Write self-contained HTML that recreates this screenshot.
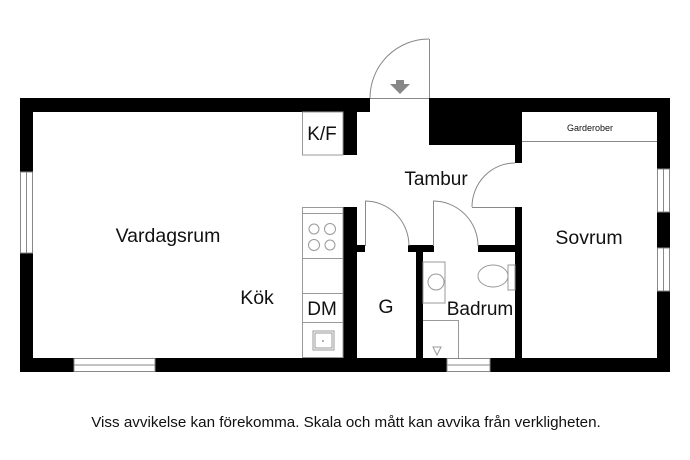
<!DOCTYPE html>
<html><head><meta charset="utf-8"><style>
html,body{margin:0;padding:0;background:#fff;width:690px;height:460px;overflow:hidden}
svg{display:block}
text{font-family:"Liberation Sans",Arial,sans-serif;fill:#111}
</style></head><body>
<svg width="690" height="460" viewBox="0 0 690 460" xmlns="http://www.w3.org/2000/svg">
<g fill="#000">
<rect x="20" y="98" width="350" height="14"/>
<rect x="429" y="98" width="241" height="14"/>
<rect x="429" y="98" width="93" height="47"/>
<rect x="20" y="98" width="13" height="274"/>
<rect x="657" y="98" width="13" height="274"/>
<rect x="20" y="358" width="650" height="14"/>
<rect x="343" y="112" width="14" height="43"/>
<rect x="343" y="207" width="14" height="151"/>
<rect x="515" y="112" width="7" height="51"/>
<rect x="515" y="207" width="7" height="151"/>
<rect x="357" y="245" width="8" height="7"/>
<rect x="408" y="245" width="26" height="7"/>
<rect x="416" y="245" width="7" height="113"/>
<rect x="478" y="245" width="37" height="7"/>
</g>
<g fill="#fff" stroke="#888" stroke-width="1">
<rect x="20.5" y="172" width="12" height="81"/>
<line x1="26.5" y1="172" x2="26.5" y2="253"/>
<rect x="74" y="358.5" width="81" height="13"/>
<line x1="74" y1="365" x2="155" y2="365"/>
<rect x="447" y="358.5" width="43" height="13"/>
<line x1="447" y1="365" x2="490" y2="365"/>
<rect x="657.5" y="169" width="12" height="43"/>
<line x1="663.5" y1="169" x2="663.5" y2="212"/>
<rect x="657.5" y="248" width="12" height="43"/>
<line x1="663.5" y1="248" x2="663.5" y2="291"/>
</g>
<g fill="none" stroke="#888" stroke-width="1">
<line x1="370" y1="98.5" x2="429" y2="98.5"/>
<line x1="429.5" y1="39" x2="429.5" y2="98"/>
<path d="M370,98 A59,59 0 0 1 429,39"/>
<line x1="472" y1="207.5" x2="515" y2="207.5"/>
<path d="M472,207 A43,44 0 0 1 515,163"/>
<line x1="365.5" y1="201" x2="365.5" y2="246"/>
<path d="M365,201 A44,45 0 0 1 409,246"/>
<line x1="433.5" y1="201" x2="433.5" y2="246"/>
<path d="M433,201 A45,45 0 0 1 478,246"/>
<line x1="522" y1="141.5" x2="657" y2="141.5"/>
</g>
<polygon points="390,84 410,84 400,94" fill="#888"/>
<rect x="396" y="80" width="8" height="5" fill="#888"/>
<g fill="none" stroke="#999" stroke-width="1">
<rect x="302.5" y="112" width="40.5" height="43"/>
<rect x="302.5" y="207.5" width="40.5" height="150"/>
<line x1="302" y1="258.5" x2="343" y2="258.5"/>
<line x1="302" y1="293.5" x2="343" y2="293.5"/>
<line x1="302" y1="322.5" x2="343" y2="322.5"/>
<line x1="302" y1="213.5" x2="343" y2="213.5"/>
<circle cx="314" cy="229" r="5"/><circle cx="330" cy="229" r="5.5"/>
<circle cx="314" cy="245" r="5.5"/><circle cx="330" cy="245" r="5"/>
<rect x="313" y="331" width="21" height="19"/>
<rect x="315" y="333" width="17" height="15"/>
<rect x="423" y="262" width="22" height="41"/>
<circle cx="436" cy="282" r="8"/>
<line x1="423" y1="320.5" x2="458" y2="320.5"/>
<line x1="458.5" y1="320" x2="458.5" y2="358"/>
<ellipse cx="493" cy="276" rx="15" ry="11"/>
<rect x="508" y="265" width="7" height="25"/>
<polygon points="433,347 441,347 437,355"/>
</g>
<circle cx="323" cy="341" r="1" fill="#999"/>
<text x="168" y="242" font-size="19.5" text-anchor="middle">Vardagsrum</text>
<text x="257" y="304" font-size="19.5" text-anchor="middle">Kök</text>
<text x="322" y="140" font-size="19" text-anchor="middle">K/F</text>
<text x="322" y="315" font-size="19" text-anchor="middle">DM</text>
<text x="386" y="313" font-size="19.5" text-anchor="middle">G</text>
<text x="436" y="185" font-size="19" text-anchor="middle">Tambur</text>
<text x="480" y="315" font-size="19" text-anchor="middle">Badrum</text>
<text x="589" y="244" font-size="19.5" text-anchor="middle">Sovrum</text>
<text x="590" y="131" font-size="9" text-anchor="middle">Garderober</text>
<text x="346" y="427" font-size="15.2" text-anchor="middle">Viss avvikelse kan förekomma. Skala och mått kan avvika från verkligheten.</text>
</svg>
</body></html>
